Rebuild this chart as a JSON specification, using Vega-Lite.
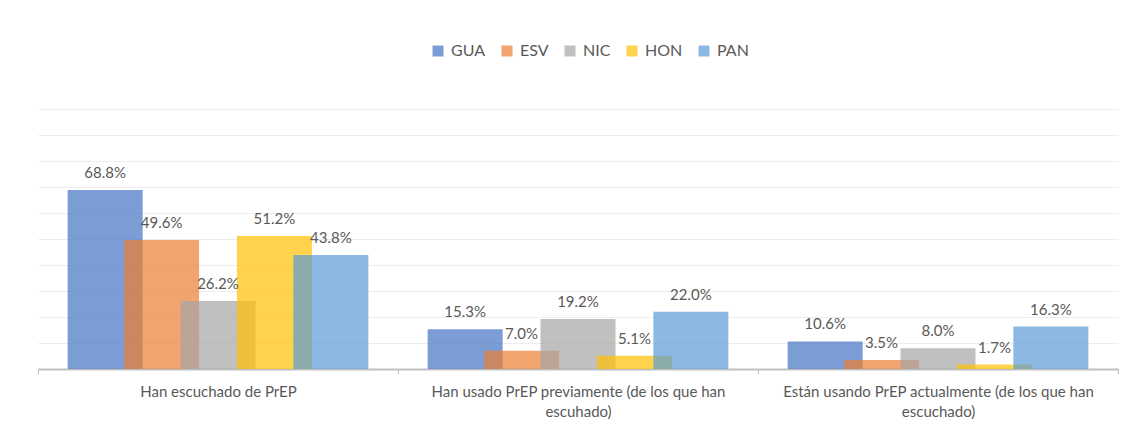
{
  "$schema": "https://vega.github.io/schema/vega-lite/v6.json",
  "autosize": {"type": "none"},
  "width": 1080,
  "height": 260,
  "padding": {"left": 38, "top": 109, "right": 15, "bottom": 72},
  "background": "#ffffff",
  "config": {
    "font": "Lato",
    "view": {"stroke": null}
  },
  "data": {
    "values": [
      {"categoria": "Han escuchado de PrEP", "pais": "GUA", "valor": 0.688},
      {"categoria": "Han escuchado de PrEP", "pais": "ESV", "valor": 0.496},
      {"categoria": "Han escuchado de PrEP", "pais": "NIC", "valor": 0.262},
      {"categoria": "Han escuchado de PrEP", "pais": "HON", "valor": 0.512},
      {"categoria": "Han escuchado de PrEP", "pais": "PAN", "valor": 0.438},
      {"categoria": "Han usado PrEP previamente (de los que han escuhado)", "pais": "GUA", "valor": 0.153},
      {"categoria": "Han usado PrEP previamente (de los que han escuhado)", "pais": "ESV", "valor": 0.070},
      {"categoria": "Han usado PrEP previamente (de los que han escuhado)", "pais": "NIC", "valor": 0.192},
      {"categoria": "Han usado PrEP previamente (de los que han escuhado)", "pais": "HON", "valor": 0.051},
      {"categoria": "Han usado PrEP previamente (de los que han escuhado)", "pais": "PAN", "valor": 0.220},
      {"categoria": "Están usando PrEP actualmente (de los que han escuchado)", "pais": "GUA", "valor": 0.106},
      {"categoria": "Están usando PrEP actualmente (de los que han escuchado)", "pais": "ESV", "valor": 0.035},
      {"categoria": "Están usando PrEP actualmente (de los que han escuchado)", "pais": "NIC", "valor": 0.080},
      {"categoria": "Están usando PrEP actualmente (de los que han escuchado)", "pais": "HON", "valor": 0.017},
      {"categoria": "Están usando PrEP actualmente (de los que han escuchado)", "pais": "PAN", "valor": 0.163}
    ]
  },
  "encoding": {
    "x": {
      "field": "categoria",
      "type": "nominal",
      "sort": null,
      "scale": {"paddingInner": 0, "paddingOuter": 0},
      "axis": {
        "title": null,
        "labelAngle": 0,
        "labelFontSize": 15,
        "labelColor": "#595959",
        "labelPadding": 10,
        "labelLimit": 0,
        "labelLineHeight": 20,
        "labelExpr": "datum.value == 'Han usado PrEP previamente (de los que han escuhado)' ? ['Han usado PrEP previamente (de los que han', 'escuhado)'] : datum.value == 'Están usando PrEP actualmente (de los que han escuchado)' ? ['Están usando PrEP actualmente (de los que han', 'escuchado)'] : datum.value",
        "tickBand": "extent",
        "tickSize": 5,
        "tickColor": "#BFBFBF",
        "domainColor": "#BFBFBF",
        "domainWidth": 2,
        "grid": false
      }
    },
    "xOffset": {
      "field": "pais",
      "type": "nominal",
      "scale": {"domain": ["GUA", "ESV", "NIC", "HON", "PAN"], "paddingInner": 0, "paddingOuter": 0.69}
    },
    "y": {
      "field": "valor",
      "type": "quantitative",
      "scale": {"domain": [0, 1], "nice": false},
      "axis": {
        "title": null,
        "labels": false,
        "ticks": false,
        "domain": false,
        "grid": true,
        "gridColor": "#EDEDED",
        "values": [0, 0.1, 0.2, 0.3, 0.4, 0.5, 0.6, 0.7, 0.8, 0.9, 1.0]
      }
    }
  },
  "layer": [
    {
      "mark": {"type": "bar", "width": 75, "opacity": 0.7},
      "encoding": {
        "color": {
          "field": "pais",
          "type": "nominal",
          "scale": {
            "domain": ["GUA", "ESV", "NIC", "HON", "PAN"],
            "range": ["#4472C4", "#ED7D31", "#A5A5A5", "#FFC000", "#5B9BD5"]
          },
          "legend": {
            "title": null,
            "orient": "none",
            "legendX": 392,
            "legendY": -66,
            "direction": "horizontal",
            "symbolType": "square",
            "symbolSize": 121,
            "symbolStrokeWidth": 0,
            "symbolOpacity": 0.7,
            "labelFontSize": 16,
            "labelColor": "#595959",
            "labelOffset": 5,
            "columnPadding": 13
          }
        }
      }
    },
    {
      "mark": {"type": "text", "baseline": "bottom", "dy": -9, "fontSize": 15, "color": "#595959"},
      "encoding": {
        "text": {"field": "valor", "type": "quantitative", "format": ".1%"}
      }
    }
  ]
}
